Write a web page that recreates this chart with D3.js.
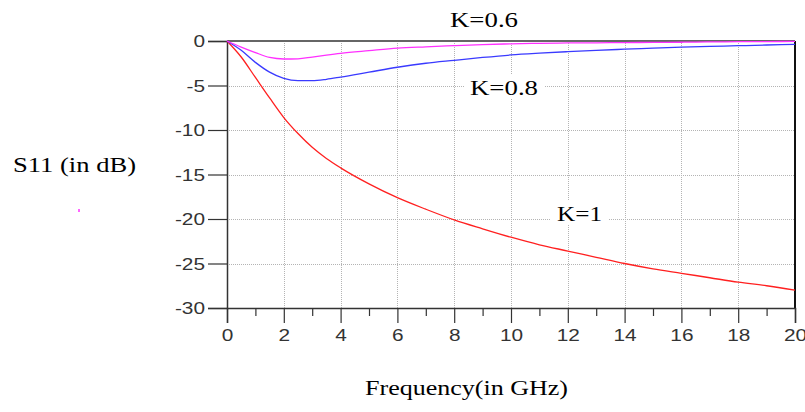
<!DOCTYPE html>
<html>
<head>
<meta charset="utf-8">
<script src="https://cdn.jsdelivr.net/npm/d3@7"></script>
<style>
  html, body { margin: 0; padding: 0; background: #fff; }
  svg { display: block; }
</style>
</head>
<body>
<svg id="chart" width="805" height="412"></svg>
<script>
// ---- data ----
const freq = [0, 0.5, 1, 1.5, 2, 2.5, 3, 3.5, 4, 5, 6, 7, 8, 9, 10, 11, 12, 13, 14, 15, 16, 17, 18, 19, 20];
const k1   = [0, -1.8, -4.1, -6.4, -8.6, -10.4, -11.95, -13.2, -14.25, -16.05, -17.6, -18.9, -20.1, -21.1, -22.05, -22.9, -23.6, -24.3, -25.0, -25.6, -26.1, -26.6, -27.1, -27.5, -28.0];
const k08  = [0, -1.05, -2.4, -3.5, -4.2, -4.45, -4.45, -4.3, -4.05, -3.5, -2.95, -2.5, -2.17, -1.85, -1.57, -1.37, -1.2, -1.05, -0.92, -0.8, -0.68, -0.6, -0.53, -0.45, -0.37];
const k06  = [0, -0.68, -1.3, -1.85, -2.02, -2.0, -1.8, -1.58, -1.38, -1.08, -0.8, -0.65, -0.52, -0.4, -0.32, -0.26, -0.22, -0.2, -0.18, -0.16, -0.14, -0.1, -0.08, -0.06, -0.05];
const seriesNames = ["K=1", "K=0.8", "K=0.6"];
const xMajorTicks = [0, 2, 4, 6, 8, 10, 12, 14, 16, 18, 20];
const xMinorTicks = [1, 3, 5, 7, 9, 11, 13, 15, 17, 19];
const yTicks = [0, -5, -10, -15, -20, -25, -30];
const xTitle = "Frequency(in GHz)";
const yTitle = "S11 (in dB)";

// ---- layout ----
const X0 = 227, X1 = 795, Y0 = 41, Y1 = 308;
const svg = d3.select("#chart");
const x = d3.scaleLinear().domain([0, 20]).range([X0, X1]);
const y = d3.scaleLinear().domain([-30, 0]).range([Y1, Y0]);

// grid
const grid = svg.append("g").attr("stroke", "#b4b4b4").attr("stroke-width", 1).attr("stroke-dasharray", "1,1");
grid.selectAll("line.v").data(xMajorTicks.filter(d => d > 0 && d < 20)).join("line")
  .attr("x1", d => Math.round(x(d)) + 0.5).attr("x2", d => Math.round(x(d)) + 0.5)
  .attr("y1", Y0).attr("y2", Y1);
grid.selectAll("line.h").data(yTicks.filter(d => d < 0 && d > -30)).join("line")
  .attr("x1", X0).attr("x2", X1)
  .attr("y1", d => Math.round(y(d)) + 0.5).attr("y2", d => Math.round(y(d)) + 0.5);

// borders
svg.append("line").attr("x1", X0).attr("x2", X1).attr("y1", Y0).attr("y2", Y0)
  .attr("stroke", "#666").attr("stroke-width", 2);
svg.append("line").attr("x1", X1).attr("x2", X1).attr("y1", Y0).attr("y2", Y1)
  .attr("stroke", "#111").attr("stroke-width", 2);

// y axis
const yAxis = svg.append("g").attr("transform", `translate(${X0},0)`)
  .call(d3.axisLeft(y).tickValues(yTicks).tickSize(19).tickPadding(3).tickFormat(d => String(d)));
yAxis.select(".domain").attr("stroke", "#333").attr("stroke-width", 1.5);
yAxis.selectAll(".tick line").attr("stroke", "#333").attr("stroke-width", 1.2);
yAxis.selectAll(".tick text").attr("font-family", "Liberation Sans, Arial, sans-serif")
  .attr("font-size", 16).attr("fill", "#333").attr("x", -22).attr("dy", "0.36em");

// x axis
const xAxis = svg.append("g").attr("transform", `translate(0,${Y1})`)
  .call(d3.axisBottom(x).tickValues(xMajorTicks).tickSize(15).tickFormat(d => String(d)));
xAxis.select(".domain").attr("stroke", "#333").attr("stroke-width", 1.5);
xAxis.selectAll(".tick line").attr("stroke", "#333").attr("stroke-width", 1.2);
xAxis.selectAll(".tick text").attr("font-family", "Liberation Sans, Arial, sans-serif")
  .attr("font-size", 16).attr("fill", "#333").attr("y", 33).attr("dy", 0);
const xMinor = svg.append("g").attr("transform", `translate(0,${Y1})`)
  .call(d3.axisBottom(x).tickValues(xMinorTicks).tickSize(8).tickFormat(""));
xMinor.select(".domain").remove();
xMinor.selectAll(".tick line").attr("stroke", "#333").attr("stroke-width", 1.2);

// stretch tick labels horizontally like the reference
svg.selectAll(".tick text").each(function() {
  const len = this.getComputedTextLength();
  if (len > 0) d3.select(this).attr("textLength", len * 1.3).attr("lengthAdjust", "spacingAndGlyphs");
});

// lines
const line = d3.line().x((d, i) => x(freq[i])).y(d => y(d)).curve(d3.curveMonotoneX);
const series = [
  { vals: k1, color: "#ff2020" },
  { vals: k08, color: "#3a3aff" },
  { vals: k06, color: "#ff30ff" }
];
svg.append("g").selectAll("path").data(series).join("path")
  .attr("d", d => line(d.vals)).attr("fill", "none")
  .attr("stroke", d => d.color).attr("stroke-width", 1.3);

// series labels (white boxes hide the gridlines)
const labels = [
  { text: seriesNames[2], x: 450, y: 27, w: 68 },
  { text: seriesNames[1], x: 470, y: 95, w: 68 },
  { text: seriesNames[0], x: 557, y: 221, w: 45 }
];
const lg = svg.append("g");
labels.forEach(l => {
  lg.append("rect").attr("x", l.x - 6).attr("y", l.y - 20).attr("width", l.w + 12).attr("height", 24).attr("fill", "#fff");
  lg.append("text").attr("x", l.x).attr("y", l.y).text(l.text)
    .attr("font-family", "Liberation Serif, Times New Roman, serif").attr("font-size", 22)
    .attr("fill", "#000").attr("textLength", l.w).attr("lengthAdjust", "spacingAndGlyphs");
});

// axis titles
svg.append("text").attr("x", 13).attr("y", 172).text(yTitle)
  .attr("font-family", "Liberation Serif, Times New Roman, serif").attr("font-size", 22)
  .attr("fill", "#000").attr("textLength", 123).attr("lengthAdjust", "spacingAndGlyphs");
svg.append("text").attr("x", 365).attr("y", 395).text(xTitle)
  .attr("font-family", "Liberation Serif, Times New Roman, serif").attr("font-size", 21)
  .attr("fill", "#000").attr("textLength", 203).attr("lengthAdjust", "spacingAndGlyphs");

// small stray speck present in the reference
svg.append("rect").attr("x", 78).attr("y", 209).attr("width", 2).attr("height", 3).attr("fill", "#ff66ff");
</script>
</body>
</html>
